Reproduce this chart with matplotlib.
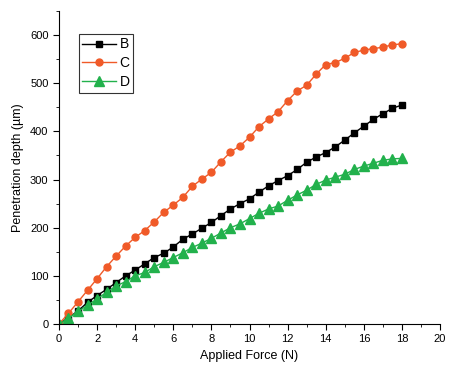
import numpy as np
import matplotlib.pyplot as plt
from matplotlib.ticker import MultipleLocator

plt.rcParams['font.family'] = ['Liberation Sans', 'DejaVu Sans']

# applied force (N), every 0.5 N
force = np.arange(0, 18.01, 0.5)

depth_b = [0, 13, 27, 45, 59, 72, 86, 100, 112, 125, 138, 147, 160, 176, 187, 199,
           211, 225, 239, 250, 260, 274, 287, 298, 308, 321, 336, 347, 356, 368,
           382, 397, 411, 425, 437, 448, 455]
depth_c = [0, 22, 46, 70, 94, 119, 141, 162, 180, 194, 212, 232, 247, 263, 286, 301,
           315, 337, 357, 370, 388, 410, 426, 441, 464, 484, 496, 519, 539, 543,
           552, 564, 569, 572, 575, 580, 582]
depth_d = [0, 12, 26, 39, 52, 66, 79, 88, 100, 107, 119, 128, 138, 148, 159, 168,
           178, 189, 200, 208, 219, 230, 239, 245, 257, 268, 278, 290, 299, 305,
           311, 321, 328, 334, 340, 343, 344]

fig = plt.figure(figsize=(4.5, 3.69), dpi=100)
ax = fig.add_axes([0.131, 0.122, 0.847, 0.848])

ax.plot(force, depth_b, color='black', marker='s', markersize=4.5, linewidth=1, label='B')
ax.plot(force, depth_c, color='#F05A28', marker='o', markersize=5, linewidth=1, label='C')
ax.plot(force, depth_d, color='#22B14C', marker='^', markersize=6.5, linewidth=1, label='D')

ax.set_xlim(0, 20)
ax.set_ylim(0, 650)
ax.xaxis.set_major_locator(MultipleLocator(2))
ax.xaxis.set_minor_locator(MultipleLocator(1))
ax.yaxis.set_major_locator(MultipleLocator(100))
ax.yaxis.set_minor_locator(MultipleLocator(50))
ax.tick_params(which='major', length=4, labelsize=8)
ax.tick_params(which='minor', length=2)
ax.spines['top'].set_visible(False)
ax.spines['right'].set_visible(False)

ax.set_xlabel('Applied Force (N)', fontsize=9)
ax.set_ylabel('Penetration depth (µm)', fontsize=9)

leg = ax.legend(loc='upper left', bbox_to_anchor=(0.052, 0.927), fontsize=10,
                borderaxespad=0, fancybox=False, edgecolor='black', handlelength=2.4,
                borderpad=0.25, labelspacing=0.35, handletextpad=0.3)
leg.get_frame().set_linewidth(0.8)

plt.savefig('out.png', dpi=100)
